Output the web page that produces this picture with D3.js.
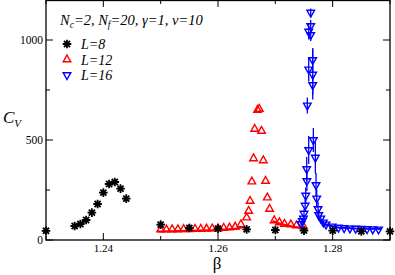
<!DOCTYPE html>
<html>
<head>
<meta charset="utf-8">
<script src="https://cdn.jsdelivr.net/npm/d3@7"></script>
<style>
  body { margin: 0; background: #fff; }
  svg { display: block; font-family: 'Liberation Serif', 'DejaVu Serif', serif; }
</style>
</head>
<body>
<div id="container"></div>
<script>
const svgWidth = 395;
const svgHeight = 275;

// data: [beta, Cv] (and error for L=16)
const l8 = [
  [1.23, 46], [1.235, 70], [1.236, 80], [1.237, 100], [1.238, 137], [1.239, 180],
  [1.240, 237], [1.241, 280], [1.242, 290], [1.243, 257], [1.244, 207],
  [1.25, 77], [1.255, 60], [1.26, 57], [1.265, 53], [1.27, 50], [1.275, 47],
  [1.28, 47], [1.285, 43], [1.29, 43]
];

const l12 = [
  [1.250, 52], [1.251, 52], [1.252, 53], [1.253, 53], [1.254, 54], [1.255, 54],
  [1.256, 55], [1.257, 55], [1.258, 56], [1.259, 57], [1.260, 58], [1.261, 60],
  [1.262, 62], [1.263, 66], [1.264, 78], [1.265, 112], [1.26535, 145],
  [1.2656, 195], [1.2659, 292], [1.2662, 408], [1.2664, 555], [1.2669, 650],
  [1.2672, 655], [1.2676, 545], [1.2679, 398], [1.2683, 295], [1.2686, 212],
  [1.2690, 155], [1.2698, 98], [1.2707, 88], [1.2716, 80], [1.2727, 77],
  [1.2737, 73], [1.2749, 67]
];
const l12CurveLow = [[1.2495, 42], [1.255, 46], [1.26, 50], [1.2635, 58], [1.2645, 66]];
const l12CurveHigh = [[1.2695, 95], [1.271, 80], [1.273, 68], [1.2755, 56]];

const l16 = [
  [1.2745, 80, 10], [1.2747, 95, 12], [1.2749, 108, 15], [1.2750, 132, 20],
  [1.2752, 172, 30], [1.2753, 222, 40], [1.2755, 295, 50], [1.27547, 355, 60],
  [1.27582, 450, 70], [1.27558, 673, 40], [1.27582, 853, 60], [1.27582, 1042, 40],
  [1.27617, 1137, 20], [1.27617, 1070, 30], [1.27617, 1025, 30], [1.27652, 900, 60],
  [1.27652, 827, 125], [1.27652, 775, 50], [1.27663, 500, 60], [1.27698, 412, 80],
  [1.2771, 275, 60], [1.27722, 208, 45], [1.27745, 155, 35], [1.27757, 125, 25],
  [1.27792, 108, 15], [1.27837, 88, 10], [1.27884, 78, 6], [1.2799, 68, 4],
  [1.281, 62, 3], [1.282, 60, 3], [1.283, 58, 2], [1.284, 57, 2], [1.285, 56, 2],
  [1.286, 55, 2], [1.287, 54, 2], [1.288, 53, 2]
];
const l16Curve = [[1.2776, 108], [1.2785, 78], [1.281, 63], [1.284, 58], [1.2885, 56]];

const xMajor = [1.24, 1.26, 1.28];
const xMinor = [1.23, 1.25, 1.27, 1.29];
const yMajor = [0, 500, 1000];
const yMinor = [250, 750];

const padLeft = 46, padRight = 390, padTop = 0, padBottom = 240;

const svg = d3
  .select('#container')
  .append('svg')
  .attr('width', svgWidth)
  .attr('height', svgHeight);

const xScale = d3.scaleLinear().domain([1.23, 1.29]).range([padLeft, padRight]);
const yScale = d3.scaleLinear().domain([0, 1200]).range([padBottom, padTop]);

const plot = svg.append('g');

// curves
const line = d3.line().x(d => xScale(d[0])).y(d => yScale(d[1]));
[[l12CurveLow, 'red'], [l12CurveHigh, 'red'], [l16Curve, 'blue']].forEach(([c, col]) => {
  plot.append('path')
    .attr('d', line(c))
    .attr('fill', 'none')
    .attr('stroke', col)
    .attr('stroke-width', 2);
});

// error bars
plot.selectAll('.err')
  .data(l16)
  .enter()
  .append('line')
  .attr('x1', d => xScale(d[0]))
  .attr('x2', d => xScale(d[0]))
  .attr('y1', d => yScale(d[1] - d[2]))
  .attr('y2', d => yScale(d[1] + d[2]))
  .attr('stroke', 'blue')
  .attr('stroke-width', 1.3);

const starPath = r => {
  const a = r * Math.SQRT1_2;
  return `M${-r},0L${r},0M0,${-r}L0,${r}M${-a},${-a}L${a},${a}M${-a},${a}L${a},${-a}`;
};
const triUp = 'M0,-4.5L3.8,2.3L-3.8,2.3Z';
const triDown = 'M0,4.5L3.8,-2.3L-3.8,-2.3Z';

const drawMarks = (g, data, path, color, sw) => {
  g.selectAll(null)
    .data(data)
    .enter()
    .append('path')
    .attr('d', path)
    .attr('transform', d => `translate(${xScale(d[0])},${yScale(d[1])})`)
    .attr('fill', 'none')
    .attr('stroke', color)
    .attr('stroke-width', sw);
};

drawMarks(plot, l12, triUp, 'red', 1.4);
drawMarks(plot, l16, triDown, 'blue', 1.4);
drawMarks(plot, l8, starPath(4.3), 'black', 1.8);

// frame
svg.append('rect')
  .attr('x', padLeft).attr('y', padTop + 0.5)
  .attr('width', padRight - padLeft).attr('height', padBottom - padTop - 0.5)
  .attr('fill', 'none').attr('stroke', 'black').attr('stroke-width', 1.3);

// inward ticks, all four sides
const ticks = svg.append('g').attr('stroke', 'black').attr('stroke-width', 1);
const xt = xMajor.map(v => [v, 7]).concat(xMinor.map(v => [v, 4]));
xt.forEach(([v, len]) => {
  const x = xScale(v);
  ticks.append('line').attr('x1', x).attr('x2', x).attr('y1', padBottom).attr('y2', padBottom - len);
  ticks.append('line').attr('x1', x).attr('x2', x).attr('y1', padTop).attr('y2', padTop + len);
});
const yt = yMajor.map(v => [v, 7]).concat(yMinor.map(v => [v, 4]));
yt.forEach(([v, len]) => {
  const y = yScale(v);
  ticks.append('line').attr('x1', padLeft).attr('x2', padLeft + len).attr('y1', y).attr('y2', y);
  ticks.append('line').attr('x1', padRight).attr('x2', padRight - len).attr('y1', y).attr('y2', y);
});

// tick labels
svg.selectAll('.xl')
  .data(xMajor)
  .enter()
  .append('text')
  .attr('x', d => xScale(d))
  .attr('y', 251.5)
  .attr('text-anchor', 'middle')
  .attr('font-size', 11)
  .text(d => d.toFixed(2));

svg.selectAll('.yl')
  .data(yMajor)
  .enter()
  .append('text')
  .attr('x', padLeft - 3)
  .attr('y', d => yScale(d) + 4)
  .attr('text-anchor', 'end')
  .attr('font-size', 11.5)
  .text(d => d);

// axis titles
svg.append('text')
  .attr('x', 217)
  .attr('y', 269)
  .attr('text-anchor', 'middle')
  .attr('font-size', 17)
  .text('β');

const cv = svg.append('text')
  .attr('x', 3)
  .attr('y', 123)
  .attr('font-size', 17)
  .attr('font-style', 'italic');
cv.append('tspan').text('C');
cv.append('tspan').attr('font-size', 11).attr('dy', 4).text('V');

// title
const title = svg.append('text')
  .attr('x', 60)
  .attr('y', 25)
  .attr('font-size', 14.5)
  .attr('font-style', 'italic');
title.append('tspan').text('N');
title.append('tspan').attr('font-size', 9.5).attr('dy', 3).text('c');
title.append('tspan').attr('dy', -3).text('=2, N');
title.append('tspan').attr('font-size', 9.5).attr('dy', 3).text('f');
title.append('tspan').attr('dy', -3).text('=20, γ=1, v=10');

// legend
const legend = [
  ['L=8', starPath(4.3), 'black', 1.8],
  ['L=12', triUp, 'red', 1.4],
  ['L=16', triDown, 'blue', 1.4]
];
legend.forEach(([label, path, color, sw], i) => {
  const y = 44 + i * 15.5;
  svg.append('path')
    .attr('d', path)
    .attr('transform', `translate(67,${y})`)
    .attr('fill', 'none')
    .attr('stroke', color)
    .attr('stroke-width', sw);
  svg.append('text')
    .attr('x', 81)
    .attr('y', y + 5)
    .attr('font-size', 14)
    .attr('font-style', 'italic')
    .text(label);
});
</script>
</body>
</html>
